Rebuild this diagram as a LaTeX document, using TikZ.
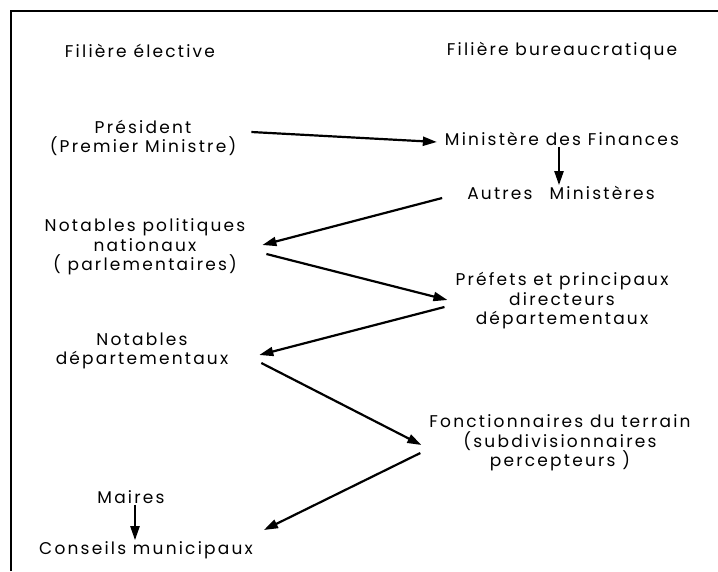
\documentclass[tikz,border=0pt]{standalone}
\usepackage{fontspec}
\setmainfont{Poppins}[LetterSpace=13]
\usetikzlibrary{arrows.meta}

\begin{document}
\begin{tikzpicture}[x=1pt, y=-1pt, line width=2.2pt, >={Triangle[length=14pt, width=9pt]},
        main/.style = {align=center, inner sep=0pt, font=\fontsize{17}{19.5}\selectfont}]
        \useasboundingbox (0,0) rectangle (718,571);
        \draw (11,571) -- (11,11) -- (718,11);

        \node[main] (0a) at (140,51)  {Filière élective};
        \node[main] (0b) at (562,51)  {Filière bureaucratique};

        \node[main] (1) at (143,138)  {Président\\(Premier Ministre)};
        \node[main] (2) at (562,139)  {Ministère des Finances};
        \node[main] (3) at (561,193)  {Autres\hspace{1em}Ministères};
        \node[main] (4) at (145,247)  {Notables politiques\\nationaux\\( parlementaires)};
        \node[main] (5) at (562,301)  {Préfets et principaux\\directeurs\\départementaux};
        \node[main] (6) at (142,351)  {Notables\\départementaux};
        \node[main] (7) at (560,443)  {Fonctionnaires du terrain\\(subdivisionnaires\hspace*{28pt}\\percepteurs )};
        \node[main] (8) at (131,497)  {Maires};
        \node[main] (9) at (146,550)  {Conseils municipaux};

        % flux
        \draw[->] ([xshift=14pt, yshift=6pt]1.east)   -- ([xshift=-7pt, yshift=-3pt]2.west);
        \draw[->] ([xshift=-3pt]2.south)              -- ([xshift=-2pt]3.north);
        \draw[->] ([xshift=-24pt, yshift=-5pt]3.west) -- ([xshift=16pt, yshift=2pt]4.east);
        \draw[->] ([xshift=20pt, yshift=-7pt]4.east)  -- ([xshift=-7pt, yshift=1pt]5.west);
        \draw[->] ([xshift=-10pt, yshift=-6pt]5.west) -- ([xshift=30pt, yshift=-4pt]6.east);
        \draw[->] ([xshift=32pt, yshift=-12pt]6.east) -- ([xshift=-7pt, yshift=-2pt]7.west);
        \draw[->] ([xshift=-8pt, yshift=-10pt]7.west) -- ([xshift=10pt, yshift=20pt]9.east);
        \draw[->] ([xshift=4pt]8.south)               -- ([xshift=-11pt]9.north);

    \end{tikzpicture}
\end{document}
